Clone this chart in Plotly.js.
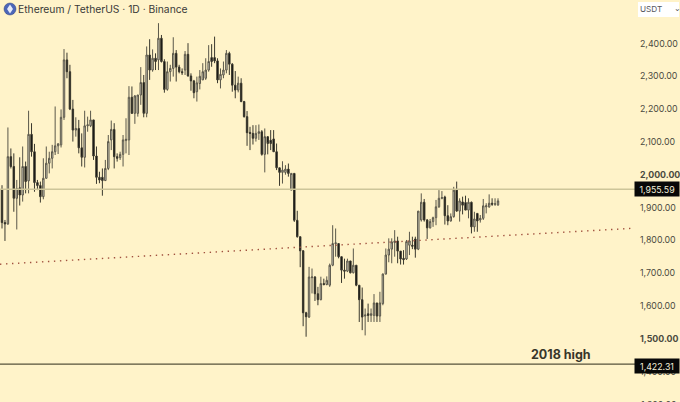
<!DOCTYPE html>
<html>
<head>
<meta charset="utf-8">
<script src="https://cdn.plot.ly/plotly-3.0.1.min.js"></script>
<style>html,body{margin:0;padding:0;background:#fff3c9}</style>
</head>
<body>
<div id="chart" style="width:680px;height:402px"></div>
<script>
const opens = [1955,1854,1850,2055,2025,1928,1960,1938,2025,1981,2123,2070,1976,1967,1933,1989,2035,2050,2070,2088,2091,2175,2350,2314,2200,2136,2141,2082,2053,2149,2149,2167,2057,
1992,1992,1982,2019,2106,2138,2055,2052,2062,2104,2106,2236,2187,2187,2243,2281,2187,2365,2319,2355,2350,2416,2345,2260,2314,2324,2370,2328,2314,2319,2367,2301,2286,
2253,2278,2289,2294,2319,2357,2357,2347,2289,2304,2319,2370,2337,2273,2258,2279,2223,2177,2129,2126,2111,2126,2131,2062,2116,2105,2109,2070,2021,2007,2007,2017,1953,2004,
1861,1811,1768,1579,1566,1686,1688,1637,1619,1668,1665,1663,1724,1790,1790,1750,1709,1706,1737,1701,1724,1663,1619,1569,1576,1571,1571,1609,1569,1607,1697,1755,
1773,1793,1798,1767,1745,1743,1785,1785,1804,1773,1862,1916,1862,1838,1857,1869,1902,1928,1932,1875,1859,1872,1953,1889,1917,1915,1892,1916,1841,1882,1862,1867,1902,1902,1913,1910,1908];
const highs = [1968,1862,2144,2080,2065,1984,2053,2086,2040,2195,2157,2094,1984,1979,2050,2086,2070,2091,2208,2096,2199,2383,2372,2335,2228,2175,2167,2126,2195,2177,2195,2167,2086,
2009,2019,2045,2121,2165,2157,2065,2070,2121,2172,2270,2269,2243,2243,2328,2304,2391,2413,2382,2370,2462,2426,2352,2345,2335,2419,2380,2335,2324,2377,2401,2309,2289,
2299,2319,2340,2355,2395,2398,2421,2355,2324,2345,2380,2375,2340,2316,2299,2294,2225,2194,2146,2151,2151,2153,2136,2141,2116,2136,2136,2095,2021,2041,2029,2034,2004,2004,
1890,1811,1770,1582,1719,1714,1691,1658,1689,1683,1690,1729,1846,1836,1790,1750,1744,1744,1737,1775,1724,1663,1656,1592,1607,1592,1636,1609,1643,1699,1775,1806,
1806,1831,1811,1767,1770,1801,1826,1811,1811,1889,1943,1926,1865,1865,1872,1923,1953,1950,1936,1907,1882,1963,1979,1928,1933,1936,1928,1918,1887,1882,1877,1926,1913,1940,1928,1928,1928];
const lows = [1836,1798,1847,2019,1887,1833,1906,1918,1943,1943,2055,1948,1953,1915,1925,1989,2004,2019,2060,2063,2083,2167,2294,2197,2101,2116,2065,2025,2022,2131,2145,2045,1972,
1974,1936,1981,2014,2075,2019,2040,2045,2025,2065,2060,2185,2155,2177,2213,2175,2175,2289,2314,2319,2319,2342,2250,2256,2284,2299,2284,2309,2304,2304,2299,2256,2233,
2223,2260,2289,2289,2314,2329,2340,2279,2263,2294,2309,2304,2253,2233,2251,2221,2174,2088,2075,2092,2101,2106,2058,2007,2062,2075,2070,2014,1966,1973,2000,1994,1953,1856,
1808,1718,1538,1506,1563,1638,1615,1602,1617,1663,1663,1658,1721,1750,1745,1670,1683,1703,1699,1699,1660,1551,1526,1510,1551,1551,1551,1551,1551,1602,1696,1733,
1730,1750,1730,1726,1726,1740,1755,1773,1747,1770,1857,1857,1804,1836,1841,1846,1899,1925,1848,1846,1857,1869,1887,1857,1879,1892,1867,1821,1826,1826,1854,1862,1882,1899,1905,1905,1905];
const closes = [1854,1850,2055,2025,1928,1958,1938,2025,1979,2123,2070,1976,1967,1933,1989,2035,2050,2070,2088,2094,2175,2350,2314,2200,2136,2141,2082,2053,2149,2152,2167,2057,1992,
1984,1982,2019,2101,2138,2055,2050,2062,2106,2108,2236,2187,2240,2243,2281,2187,2365,2319,2355,2345,2416,2345,2260,2314,2324,2370,2328,2314,2311,2367,2301,2286,2250,
2280,2300,2314,2319,2345,2345,2347,2289,2306,2319,2370,2337,2273,2258,2279,2223,2177,2128,2126,2111,2126,2131,2062,2116,2095,2095,2070,2021,2007,2014,2017,2004,2004,1861,
1811,1768,1579,1567,1688,1688,1637,1619,1668,1665,1678,1724,1790,1792,1750,1709,1706,1737,1701,1724,1663,1619,1566,1572,1571,1576,1609,1569,1609,1697,1755,1773,
1795,1798,1767,1743,1741,1796,1798,1782,1773,1889,1916,1862,1838,1857,1869,1902,1928,1930,1875,1859,1872,1953,1889,1920,1907,1892,1916,1841,1865,1859,1867,1905,1905,1913,1910,1911,1920];

const priceTicks = [1400,1500,1600,1700,1800,1900,2000,2100,2200,2300,2400];
const tickLabels = ["1,400.00","<b>1,500.00</b>","1,600.00","1,700.00","1,800.00","1,900.00","<b>2,000.00</b>","2,100.00","2,200.00","2,300.00","2,400.00"];
const resistance = 1955.59;
const support = 1422.31;
const trendStart = 1727;
const trendEnd = 1837;

const W = 635, H = 402, BG = "#fff3c9";
const px = v => v / W;
const py = v => 1 - v / H;
const xStart = -0.68, xEnd = 214.4;
const FONT = "Inter, 'Noto Sans', sans-serif";

const candles = {
  type: "candlestick",
  open: opens, high: highs, low: lows, close: closes,
  increasing: {line: {color: "#5a574a", width: 1}, fillcolor: "#d8d4c6"},
  decreasing: {line: {color: "#3a382e", width: 1}, fillcolor: "#050505"},
  whiskerwidth: 0,
  hoverinfo: "skip"
};
const hline = (v, color, w) => ({type: "scatter", mode: "lines", x: [xStart, xEnd], y: [v, v], line: {color, width: w}, hoverinfo: "skip"});
const traces = [
  hline(resistance, "#cdc599", 1.4),
  hline(support, "#56523a", 1.2),
  {type: "scatter", mode: "lines", x: [xStart, xEnd], y: [trendStart, trendEnd], line: {color: "#a0503e", width: 1.4, dash: "1.4px 4.6px"}, hoverinfo: "skip"},
  candles
];
const note = (text, x, y, opts) => Object.assign({text, xref: "paper", yref: "paper", x: px(x), y: py(y), showarrow: false, xanchor: "left", yanchor: "middle"}, opts);

const layout = {
  width: 680, height: 402,
  margin: {l: 0, r: 45, t: 0, b: 0},
  paper_bgcolor: BG, plot_bgcolor: BG,
  showlegend: false,
  xaxis: {visible: false, range: [xStart, xEnd], rangeslider: {visible: false}, fixedrange: true},
  yaxis: {
    side: "right", range: [1307, 2532.6], tickvals: priceTicks, ticktext: tickLabels,
    showgrid: false, zeroline: false, showline: false, ticks: "", ticklabelstandoff: 4,
    tickfont: {family: FONT, size: 8.8, color: "#4a4a40"}
  },
  shapes: [
    {type: "circle", xref: "paper", yref: "paper", x0: px(4), x1: px(16), y0: py(15), y1: py(3), fillcolor: "#4c66b8", line: {color: "#2f3f7a", width: 0.5}},
    {type: "path", xref: "paper", yref: "paper", path: `M ${px(10)} ${py(4.5)} L ${px(13)} ${py(9)} L ${px(10)} ${py(13.5)} L ${px(7)} ${py(9)} Z`, fillcolor: "#e6eaf8", line: {width: 0}},
    {type: "rect", xref: "paper", yref: "paper", x0: px(638), x1: px(679), y0: py(17), y1: py(2), fillcolor: "#ffffff", line: {width: 0}}
  ],
  annotations: [
    note("Ethereum / TetherUS · 1D · Binance", 16, 9, {font: {family: FONT, size: 10.3, color: "#3a3a38"}}),
    note("USDT", 638, 9.5, {font: {family: FONT, size: 8.2, color: "#55565c"}}),
    note("⌄", 672, 8, {font: {family: "'DejaVu Sans', sans-serif", size: 8, color: "#55565c"}}),
    note("2018 high", 529, 354.5, {font: {family: FONT, size: 12.5, color: "#38362a", weight: 700}}),
    note("1,955.59", 634, 189.5, {bgcolor: "#080808", font: {family: FONT, size: 8.8, color: "#f4f0dc"}, width: 42, height: 12, align: "center"}),
    note("1,422.31", 634, 365.5, {bgcolor: "#080808", font: {family: FONT, size: 8.8, color: "#f4f0dc"}, width: 42, height: 12, align: "center"}),
    note("1,300.00", 639, 404, {font: {family: FONT, size: 8.8, color: "#4a4a40"}})
  ]
};
Plotly.newPlot("chart", traces, layout, {displayModeBar: false, staticPlot: true});
</script>
</body>
</html>
